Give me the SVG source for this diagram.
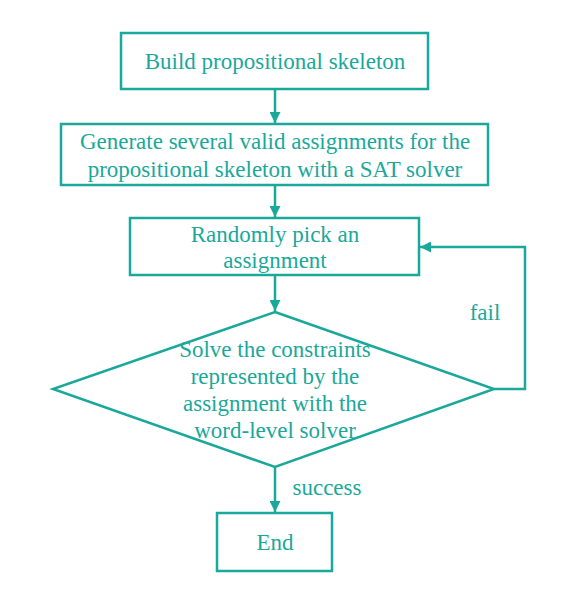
<svg xmlns="http://www.w3.org/2000/svg" width="577" height="598" viewBox="0 0 577 598">
<style>
.box{fill:#fff;stroke:#1aa89a;stroke-width:2.5}
.t{font-family:"Liberation Serif","Times New Roman",serif;font-size:23px;fill:#1aa89a;text-anchor:middle}
.c{fill:none;stroke:#1aa89a;stroke-width:2.5}
</style>
<defs>
<marker id="ah" viewBox="0 0 10 10" refX="10" refY="5" markerWidth="4.4" markerHeight="4.4" orient="auto" markerUnits="strokeWidth">
<path d="M0,0 L10,5 L0,10 z" fill="#1aa89a"/>
</marker>
</defs>
<rect width="577" height="598" fill="#fff"/>
<g id="connectors">
<line class="c" x1="275" y1="89" x2="275" y2="123" marker-end="url(#ah)"/>
<line class="c" x1="275" y1="185" x2="275" y2="217" marker-end="url(#ah)"/>
<line class="c" x1="275" y1="275" x2="275" y2="311" marker-end="url(#ah)"/>
<polyline class="c" points="494,389 525,389 525,247 420,247" marker-end="url(#ah)"/>
<line class="c" x1="275" y1="467" x2="275" y2="512" marker-end="url(#ah)"/>
<text class="t" x="485" y="320">fail</text>
<text class="t" x="327" y="495">success</text>
</g>
<g id="build">
<rect class="box" x="121" y="33" width="307" height="56"/>
<text class="t" x="275" y="69">Build propositional skeleton</text>
</g>
<g id="generate">
<rect class="box" x="61" y="124" width="427" height="61"/>
<text class="t" x="275" y="149">Generate several valid assignments for the</text>
<text class="t" x="275" y="177">propositional skeleton with a SAT solver</text>
</g>
<g id="pick">
<rect class="box" x="130" y="218" width="289" height="57"/>
<text class="t" x="275" y="242">Randomly pick an</text>
<text class="t" x="275" y="268">assignment</text>
</g>
<g id="solve">
<polygon class="box" points="275,312 494,389 275,467 53,389"/>
<text class="t" x="275" y="357">Solve the constraints</text>
<text class="t" x="275" y="384">represented by the</text>
<text class="t" x="275" y="411">assignment with the</text>
<text class="t" x="275" y="438">word-level solver</text>
</g>
<g id="end">
<rect class="box" x="217" y="513" width="115" height="58"/>
<text class="t" x="275" y="550">End</text>
</g>
</svg>
